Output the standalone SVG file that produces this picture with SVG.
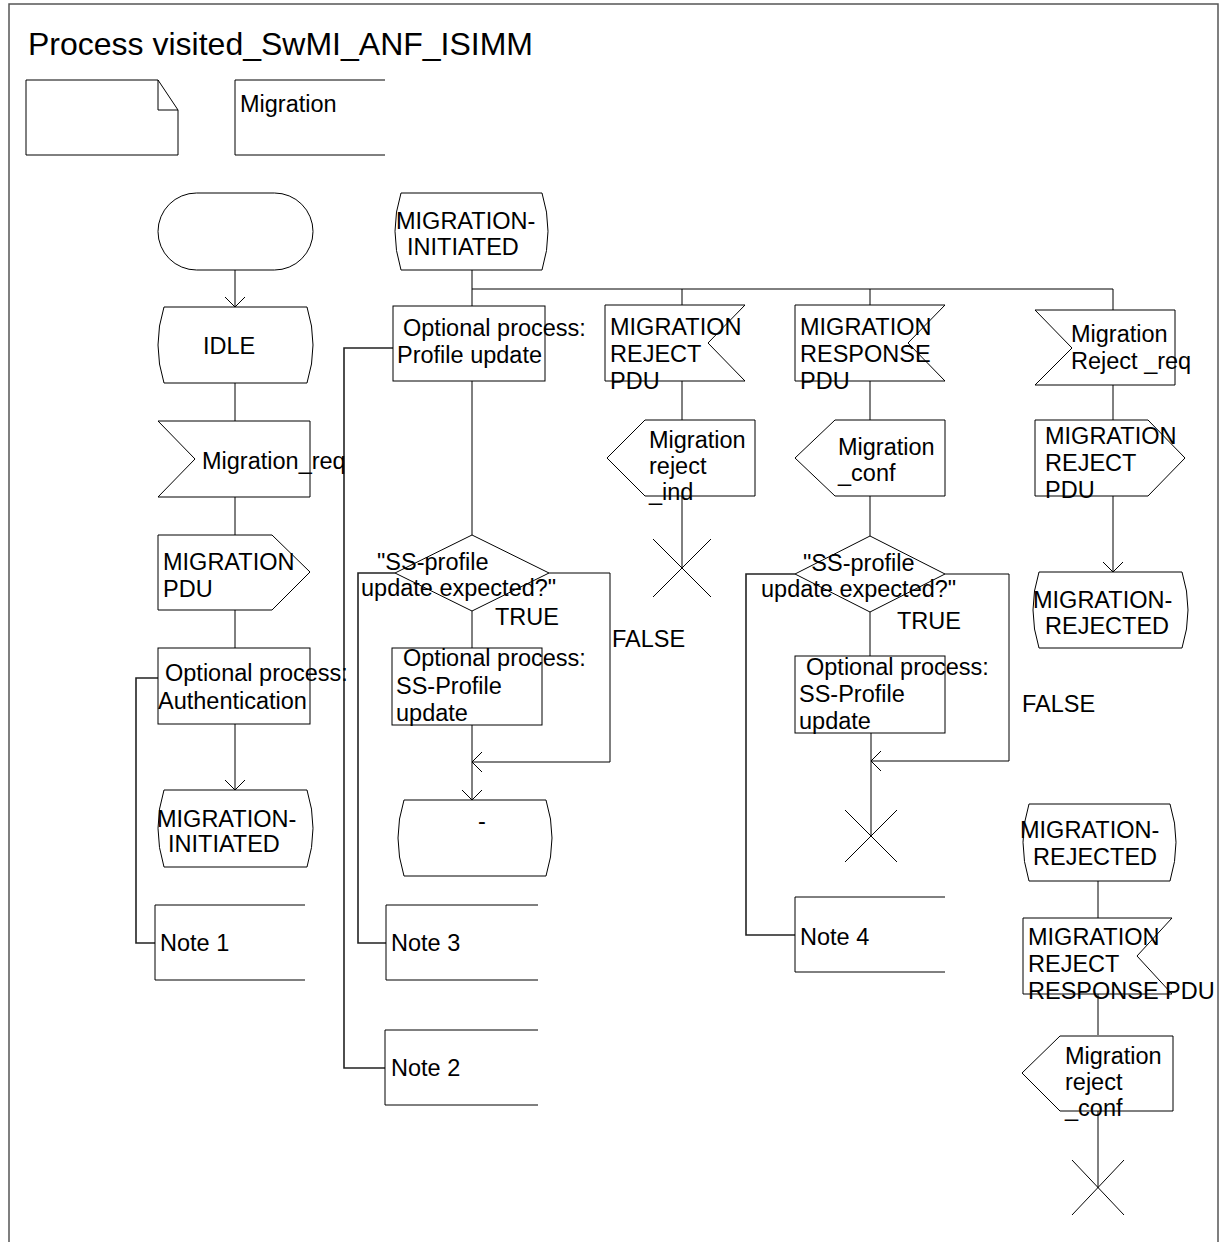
<svg xmlns="http://www.w3.org/2000/svg" width="1221" height="1242" viewBox="0 0 1221 1242">
<defs>
<marker id="arr" markerUnits="userSpaceOnUse" markerWidth="12" markerHeight="22" viewBox="0 0 11 22" refX="10" refY="11" orient="auto">
<path d="M0,1 L10,11 L0,21" fill="none" stroke="#000" stroke-width="1"/>
</marker>
<style>
.s{fill:#fff;stroke:#000;stroke-width:1}
.l{fill:none;stroke:#000;stroke-width:1}
.c{fill:none;stroke:#222;stroke-width:1.6}
.f{fill:none;stroke:#555;stroke-width:1.5}
text{font-family:"Liberation Sans",Arial,sans-serif;font-size:23.5px;fill:#000}
.t{font-size:32px}
</style>
</defs>
<rect x="0" y="0" width="1221" height="1242" fill="#fff"/>
<g id="frame">
<path class="f" d="M9,1242 V4 H1218 V1242"/>
<text class="t" x="28" y="55">Process visited_SwMI_ANF_ISIMM</text>
</g>
<g id="textsym">
<path class="s" d="M26,80 H158 L178,110 V155 H26 Z"/>
<path class="l" d="M158,80 V110 H178"/>
</g>
<g id="migration_hdr">
<path class="l" d="M385,80 H235 V155 H385"/>
<text x="240" y="112">Migration</text>
</g>
<g id="connectors">
<path class="l" d="M235,270 V307" marker-end="url(#arr)"/>
<path class="l" d="M235,383 V421"/>
<path class="l" d="M235,497 V535"/>
<path class="l" d="M235,610 V648"/>
<path class="l" d="M235,724 V790" marker-end="url(#arr)"/>
<path class="l" d="M472,270 V306"/>
<path class="l" d="M472,289 H1113"/>
<path class="l" d="M682,289 V305"/>
<path class="l" d="M870,289 V305"/>
<path class="l" d="M1113,289 V310"/>
<path class="l" d="M472,381 V535"/>
<path class="l" d="M472,611 V648"/>
<path class="l" d="M472,725 V800" marker-end="url(#arr)"/>
<path class="l" d="M549,573 H610 V762 H472" marker-end="url(#arr)"/>
<path class="l" d="M682,381 V420"/>
<path class="l" d="M682,496 V568"/>
<path class="l" d="M870,381 V420"/>
<path class="l" d="M870,496 V536"/>
<path class="l" d="M870,612 V656"/>
<path class="l" d="M871,733 V836"/>
<path class="l" d="M945,574 H1009 V761 H871" marker-end="url(#arr)"/>
<path class="l" d="M1113,385 V420"/>
<path class="l" d="M1113,496 V572" marker-end="url(#arr)"/>
<path class="l" d="M1098,881 V918"/>
<path class="l" d="M1098,994 V1035"/>
<path class="l" d="M1098,1111 V1188"/>
<path class="c" d="M158,678 H136 V943 H155"/>
<path class="c" d="M393,348 H344 V1068 H385"/>
<path class="c" d="M395,573 H358 V943 H386"/>
<path class="c" d="M795,574 H746 V935 H795"/>
</g>
<g id="start">
<rect class="s" x="158" y="193" width="155" height="77" rx="38.5"/>
</g>
<g id="idle">
<path class="s" d="M164,307 H307 Q319,345 307,383 H164 Q152,345 164,307 Z"/>
<text x="203" y="354">IDLE</text>
</g>
<g id="migration_req">
<path class="s" d="M158,421 H310 V497 H158 L195,459 Z"/>
<text x="202" y="469">Migration_req</text>
</g>
<g id="migration_pdu">
<path class="s" d="M158,535 H272 L310,572 L272,610 H158 Z"/>
<text x="163" y="570">MIGRATION</text>
<text x="163" y="597">PDU</text>
</g>
<g id="auth">
<rect class="s" x="158" y="648" width="152" height="76"/>
<text x="165" y="681">Optional process:</text>
<text x="158" y="709">Authentication</text>
</g>
<g id="mig_init1">
<path class="s" d="M164,790 H307 Q319,828 307,867 H164 Q152,828 164,790 Z"/>
<text x="157" y="827">MIGRATION-</text>
<text x="168" y="852">INITIATED</text>
</g>
<g id="note1">
<path class="l" d="M305,905 H155 V980 H305"/>
<text x="160" y="951">Note 1</text>
</g>
<g id="mig_init2">
<path class="s" d="M401,193 H542 Q554,231 542,270 H401 Q389,231 401,193 Z"/>
<text x="396" y="229">MIGRATION-</text>
<text x="407" y="255">INITIATED</text>
</g>
<g id="profile_update">
<rect class="s" x="393" y="306" width="152" height="75"/>
<text x="403" y="336">Optional process:</text>
<text x="397" y="363">Profile update</text>
</g>
<g id="dec1">
<path class="s" d="M395,573 L472,535 L549,573 L472,611 Z"/>
<text x="377" y="570">"SS-profile</text>
<text x="361" y="596">update expected?"</text>
<text x="495" y="625">TRUE</text>
<text x="612" y="647">FALSE</text>
</g>
<g id="ss_profile1">
<rect class="s" x="392" y="648" width="150" height="77"/>
<text x="403" y="666">Optional process:</text>
<text x="396" y="694">SS-Profile</text>
<text x="396" y="721">update</text>
</g>
<g id="dash_state">
<path class="s" d="M404,800 H546 Q558,838 546,876 H404 Q392,838 404,800 Z"/>
<text x="478" y="829">-</text>
</g>
<g id="note3">
<path class="l" d="M538,905 H386 V980 H538"/>
<text x="391" y="951">Note 3</text>
</g>
<g id="note2">
<path class="l" d="M538,1030 H385 V1105 H538"/>
<text x="391" y="1076">Note 2</text>
</g>
<g id="rej_pdu_in">
<path class="s" d="M605,305 H745 L708,343 L745,381 H605 Z"/>
<text x="610" y="335">MIGRATION</text>
<text x="610" y="362">REJECT</text>
<text x="610" y="389">PDU</text>
</g>
<g id="rej_ind">
<path class="s" d="M645,420 H755 V496 H645 L607,458 Z"/>
<text x="649" y="448">Migration</text>
<text x="649" y="474">reject</text>
<text x="649" y="500">_ind</text>
</g>
<g id="stop1">
<path class="l" d="M653,539 L711,597 M711,539 L653,597"/>
</g>
<g id="resp_pdu_in">
<path class="s" d="M795,305 H945 L908,343 L945,381 H795 Z"/>
<text x="800" y="335">MIGRATION</text>
<text x="800" y="362">RESPONSE</text>
<text x="800" y="389">PDU</text>
</g>
<g id="mig_conf">
<path class="s" d="M835,420 H945 V496 H835 L795,458 Z"/>
<text x="838" y="455">Migration</text>
<text x="838" y="481">_conf</text>
</g>
<g id="dec2">
<path class="s" d="M795,574 L870,536 L945,574 L870,612 Z"/>
<text x="803" y="571">"SS-profile</text>
<text x="761" y="597">update expected?"</text>
<text x="897" y="629">TRUE</text>
<text x="1022" y="712">FALSE</text>
</g>
<g id="ss_profile2">
<rect class="s" x="795" y="656" width="150" height="77"/>
<text x="806" y="675">Optional process:</text>
<text x="799" y="702">SS-Profile</text>
<text x="799" y="729">update</text>
</g>
<g id="stop2">
<path class="l" d="M845,810 L897,862 M897,810 L845,862"/>
</g>
<g id="note4">
<path class="l" d="M945,897 H795 V972 H945"/>
<text x="800" y="945">Note 4</text>
</g>
<g id="rej_req_in">
<path class="s" d="M1035,310 H1175 V385 H1035 L1072,348 Z"/>
<text x="1071" y="342">Migration</text>
<text x="1071" y="369">Reject _req</text>
</g>
<g id="rej_pdu_out">
<path class="s" d="M1035,420 H1148 L1185,458 L1148,496 H1035 Z"/>
<text x="1045" y="444">MIGRATION</text>
<text x="1045" y="471">REJECT</text>
<text x="1045" y="498">PDU</text>
</g>
<g id="mig_rej1">
<path class="s" d="M1039,572 H1182 Q1194,610 1182,648 H1039 Q1027,610 1039,572 Z"/>
<text x="1033" y="608">MIGRATION-</text>
<text x="1045" y="634">REJECTED</text>
</g>
<g id="mig_rej2">
<path class="s" d="M1029,804 H1170 Q1182,842 1170,881 H1029 Q1017,842 1029,804 Z"/>
<text x="1020" y="838">MIGRATION-</text>
<text x="1033" y="865">REJECTED</text>
</g>
<g id="rej_resp_in">
<path class="s" d="M1023,918 H1172 L1137,956 L1172,994 H1023 Z"/>
<text x="1028" y="945">MIGRATION</text>
<text x="1028" y="972">REJECT</text>
<text x="1028" y="999">RESPONSE PDU</text>
</g>
<g id="rej_conf">
<path class="s" d="M1060,1036 H1173 V1111 H1060 L1022,1073 Z"/>
<text x="1065" y="1064">Migration</text>
<text x="1065" y="1090">reject</text>
<text x="1065" y="1116">_conf</text>
</g>
<g id="stop3">
<path class="l" d="M1072,1160 L1124,1215 M1124,1160 L1072,1215"/>
</g>
</svg>
